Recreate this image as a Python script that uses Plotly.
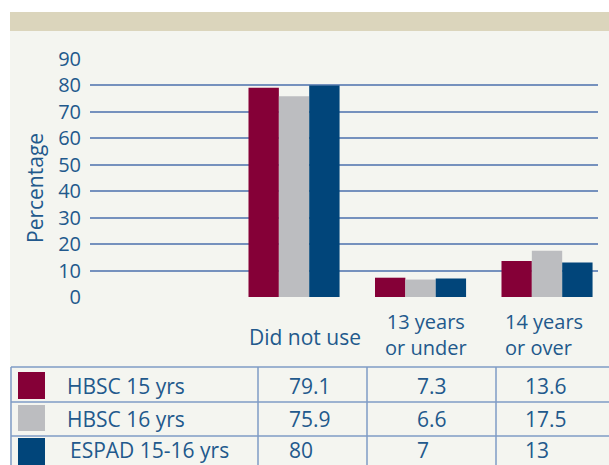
import plotly.graph_objects as go

# ---- data ----
categories = ["Did not use", "13 years or under", "14 years or over"]
category_labels = ["Did not use", "13 years<br>or under", "14 years<br>or over"]
series_names = ["HBSC 15 yrs", "HBSC 16 yrs", "ESPAD 15-16 yrs"]
hbsc15 = [79.1, 7.3, 13.6]
hbsc16 = [75.9, 6.6, 17.5]
espad = [80, 7, 13]
table_text = [["79.1", "7.3", "13.6"], ["75.9", "6.6", "17.5"], ["80", "7", "13"]]
y_ticks = [0, 10, 20, 30, 40, 50, 60, 70, 80, 90]

# ---- styles ----
W, H = 609, 465
colors = ["#850037", "#bcbdc0", "#01457a"]
txt = "#22598c"
grid = "#7591bd"
tline = "#7f9bc6"
bg = "#f4f5f0"
beige = "#dbd5bc"
FONT = "Open Sans"

def px(x):
    return x / W

def py(y):
    return 1 - y / H

fig = go.Figure()
for name, vals, c in zip(series_names, [hbsc15, hbsc16, espad], colors):
    fig.add_trace(go.Bar(x=categories, y=vals, name=name, marker=dict(color=c, line=dict(width=0)),
                         showlegend=False, hoverinfo="skip"))

shapes = [
    dict(type="rect", xref="paper", yref="paper", x0=px(10), x1=px(609), y0=py(31), y1=py(12),
         fillcolor=beige, line=dict(width=0), layer="below"),
    dict(type="rect", xref="paper", yref="paper", x0=px(10), x1=px(609), y0=py(465), y1=py(31),
         fillcolor=bg, line=dict(width=0), layer="below"),
]
# table lines
row_edges = [367, 402, 436]
for yy in row_edges:
    shapes.append(dict(type="line", xref="paper", yref="paper", x0=px(11), x1=px(609), y0=py(yy), y1=py(yy),
                       line=dict(color=tline, width=1.5)))
for xx in [11, 258, 367, 496]:
    shapes.append(dict(type="line", xref="paper", yref="paper", x0=px(xx), x1=px(xx), y0=py(367), y1=py(470),
                       line=dict(color=tline, width=1.5)))
# swatches
sw_y = [(372, 399), (405, 431), (438, 466)]
for c, (a, b) in zip(colors, sw_y):
    shapes.append(dict(type="rect", xref="paper", yref="paper", x0=px(18), x1=px(45), y0=py(b), y1=py(a),
                       fillcolor=c, line=dict(width=0)))

annotations = []
# y-axis title
annotations.append(dict(text="Percentage", xref="paper", yref="paper", x=px(35), y=py(188), showarrow=False,
                        textangle=-90, font=dict(family=FONT, size=21, color=txt), xanchor="center", yanchor="middle"))
# category labels
cat_pos = [(305, "center", 337, 21), (426, "center", 334, 20), (503, "left", 334, 20)]
for lab, (cx, al, yy, fs) in zip(category_labels, cat_pos):
    annotations.append(dict(text=lab, xref="paper", yref="paper", x=px(cx), y=py(yy), showarrow=False,
                            xanchor=al, yanchor="middle", align=al, font=dict(family=FONT, size=fs, color=txt)))
# table text
row_cy = [386, 419, 450]
name_x = [65, 65, 68]
for i, name in enumerate(series_names):
    annotations.append(dict(text=name, xref="paper", yref="paper", x=px(name_x[i]), y=py(row_cy[i]),
                            showarrow=False, xanchor="left", yanchor="middle",
                            font=dict(family=FONT, size=21, color=txt)))
    for j, t in enumerate(table_text[i]):
        annotations.append(dict(text=t, xref="paper", yref="paper", x=px([287, 415, 523][j]), y=py(row_cy[i]),
                                showarrow=False, xanchor="left", yanchor="middle",
                                font=dict(family=FONT, size=21, color=txt)))

fig.update_layout(
    template="none",
    width=W, height=H,
    margin=dict(l=0, r=0, t=0, b=0, pad=0),
    paper_bgcolor="white",
    plot_bgcolor="rgba(0,0,0,0)",
    barmode="group",
    bargap=0.28,
    bargroupgap=0,
    showlegend=False,
    hovermode=False,
    shapes=shapes,
    annotations=annotations,
    xaxis=dict(domain=[px(90), px(598)], range=[-1.613, 2.403], showticklabels=False, showgrid=False,
               zeroline=False, showline=False, ticks="", automargin=False, fixedrange=True),
    yaxis=dict(domain=[py(297), py(59)], range=[0, 90], tickvals=y_ticks, showgrid=True, gridcolor=grid,
               gridwidth=2, zeroline=False, showline=False, ticks="", ticklabelstandoff=8, automargin=False,
               fixedrange=True, tickfont=dict(family=FONT, size=20, color=txt)),
)

fig.write_html("out.html", config={"displayModeBar": False, "staticPlot": True},
               post_script="document.body.style.margin='0';document.body.style.overflow='hidden';")
